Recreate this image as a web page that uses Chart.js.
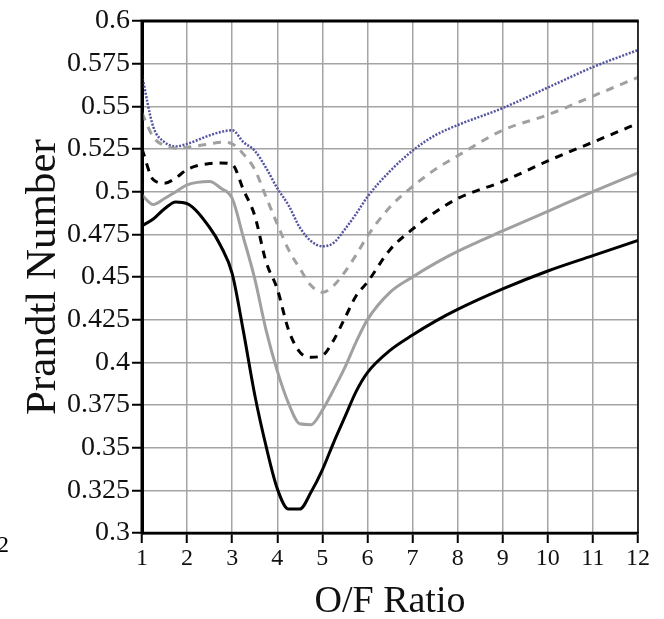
<!DOCTYPE html>
<html><head><meta charset="utf-8">
<script src="https://cdn.jsdelivr.net/npm/chart.js@4.4.1/dist/chart.umd.min.js"></script>
<style>html,body{margin:0;padding:0;background:#fff;overflow:hidden;}</style>
</head><body>
<canvas id="c" width="664" height="619"></canvas>
<script>
// O/F ratio sample positions (shared by all curves)
const ofRatio = [1, 1.25, 1.5, 1.75, 2, 2.5, 2.75, 3, 3.25, 3.5, 3.75, 4, 4.25, 4.5, 4.75, 5, 5.25, 5.5, 5.75, 6, 6.5, 7, 7.5, 8, 9, 10, 11, 12];
// Prandtl number curves
const prBlueDotted = [0.568, 0.538, 0.529, 0.5265, 0.528, 0.533, 0.535, 0.536, 0.529, 0.524, 0.514, 0.502, 0.492, 0.479, 0.471, 0.468, 0.470, 0.478, 0.487, 0.497, 0.512, 0.524, 0.533, 0.539, 0.549, 0.561, 0.573, 0.583];
const prGreyDashed = [0.546, 0.532, 0.527, 0.5255, 0.526, 0.528, 0.529, 0.528, 0.522, 0.513, 0.497, 0.481, 0.466, 0.455, 0.445, 0.441, 0.445, 0.453, 0.463, 0.474, 0.491, 0.503, 0.513, 0.521, 0.536, 0.545, 0.556, 0.567];
const prBlackDashed = [0.525, 0.507, 0.505, 0.508, 0.513, 0.5165, 0.5168, 0.516, 0.501, 0.486, 0.459, 0.443, 0.419, 0.406, 0.403, 0.404, 0.413, 0.426, 0.439, 0.447, 0.466, 0.478, 0.488, 0.496, 0.506, 0.518, 0.529, 0.540];
const prGreySolid = [0.498, 0.4925, 0.496, 0.500, 0.504, 0.506, 0.502, 0.496, 0.473, 0.449, 0.419, 0.395, 0.376, 0.364, 0.3635, 0.372, 0.384, 0.397, 0.412, 0.425, 0.441, 0.450, 0.458, 0.465, 0.477, 0.4885, 0.500, 0.511];
const prBlackSolid = [0.480, 0.484, 0.490, 0.494, 0.493, 0.479, 0.468, 0.452, 0.418, 0.381, 0.351, 0.326, 0.314, 0.314, 0.324, 0.337, 0.353, 0.368, 0.383, 0.394, 0.407, 0.416, 0.424, 0.431, 0.443, 0.4535, 0.4625, 0.4715];
// tick values
const xTickValues = [1, 2, 3, 4, 5, 6, 7, 8, 9, 10, 11, 12];
const yTickValues = [0.3, 0.325, 0.35, 0.375, 0.4, 0.425, 0.45, 0.475, 0.5, 0.525, 0.55, 0.575, 0.6];
const xTitle = 'O/F Ratio';
const yTitle = 'Prandtl Number';
const strayLabel = '12';

const FONT = "'Liberation Serif', 'Times New Roman', serif";
const toPts = arr => arr.map((v, i) => ({x: ofRatio[i], y: v}));

function ds(data, color, width, dash) {
  return {data: toPts(data), borderColor: color, borderWidth: width, borderDash: dash,
    pointRadius: 0, fill: false, cubicInterpolationMode: 'monotone', borderCapStyle: 'butt'};
}

const framePlugin = {
  id: 'frame',
  afterDraw(chart) {
    const {ctx, chartArea: a} = chart;
    ctx.save();
    ctx.strokeStyle = '#000';
    ctx.lineWidth = 1.5;
    ctx.beginPath();
    ctx.moveTo(a.right, a.top); ctx.lineTo(a.right, a.bottom);
    ctx.stroke();
    ctx.lineWidth = 3;
    ctx.beginPath();
    ctx.moveTo(a.left, a.top); ctx.lineTo(a.right + 0.75, a.top);
    ctx.moveTo(a.left, a.top - 1.5); ctx.lineTo(a.left, a.bottom + 1.5);
    ctx.stroke();
    ctx.lineWidth = 2.5;
    ctx.beginPath();
    ctx.moveTo(a.left, a.bottom); ctx.lineTo(a.right + 0.75, a.bottom);
    ctx.stroke();
    // stray tick label from neighbouring chart at the left edge
    ctx.fillStyle = '#000';
    ctx.font = '24px ' + FONT;
    ctx.textAlign = 'right';
    ctx.textBaseline = 'middle';
    ctx.fillText(strayLabel, 9, 546);
    ctx.restore();
  }
};

new Chart(document.getElementById('c'), {
  type: 'line',
  data: {datasets: [
    ds(prBlackSolid, '#000000', 3, []),
    ds(prGreySolid, '#a0a0a0', 3, []),
    ds(prBlackDashed, '#000000', 3, [8, 7]),
    ds(prGreyDashed, '#a0a0a0', 3, [8, 7]),
    ds(prBlueDotted, '#5454a0', 2.5, [2, 1.5])
  ]},
  options: {
    responsive: false,
    devicePixelRatio: 1,
    animation: false,
    layout: {padding: {left: 22, right: 26, top: 21, bottom: 0}},
    plugins: {legend: {display: false}, tooltip: {enabled: false}, title: {display: false}},
    scales: {
      x: {
        type: 'linear', min: 1, max: 12,
        afterBuildTicks: s => { s.ticks = xTickValues.map(v => ({value: v})); },
        afterFit: s => { s.height = 86; },
        grid: {color: '#a4a4a4', lineWidth: 1.5, tickColor: '#000', tickLength: 10, tickWidth: 2},
        border: {display: true, color: '#000', width: 2.5},
        ticks: {color: '#111', font: {family: FONT, size: 24}, padding: 1, maxRotation: 0, autoSkip: false,
          callback: v => String(v)},
        title: {display: true, text: xTitle, color: '#111', font: {family: FONT, size: 38, lineHeight: 1}, padding: {top: 0, bottom: -2}}
      },
      y: {
        type: 'linear', min: 0.3, max: 0.6,
        afterBuildTicks: s => { s.ticks = yTickValues.map(v => ({value: v})); },
        afterFit: s => { s.width = 120; },
        grid: {color: '#a4a4a4', lineWidth: 1.5, tickColor: '#000', tickLength: 10, tickWidth: 2},
        border: {display: true, color: '#000', width: 3},
        ticks: {color: '#111', font: {family: FONT, size: 28}, padding: 2, autoSkip: false,
          callback: v => String(Number(v.toFixed(3)))},
        title: {display: true, text: yTitle, color: '#111', font: {family: FONT, size: 43, lineHeight: 1}, padding: {top: 0, bottom: 0}}
      }
    }
  },
  plugins: [framePlugin]
});
</script>
</body></html>
